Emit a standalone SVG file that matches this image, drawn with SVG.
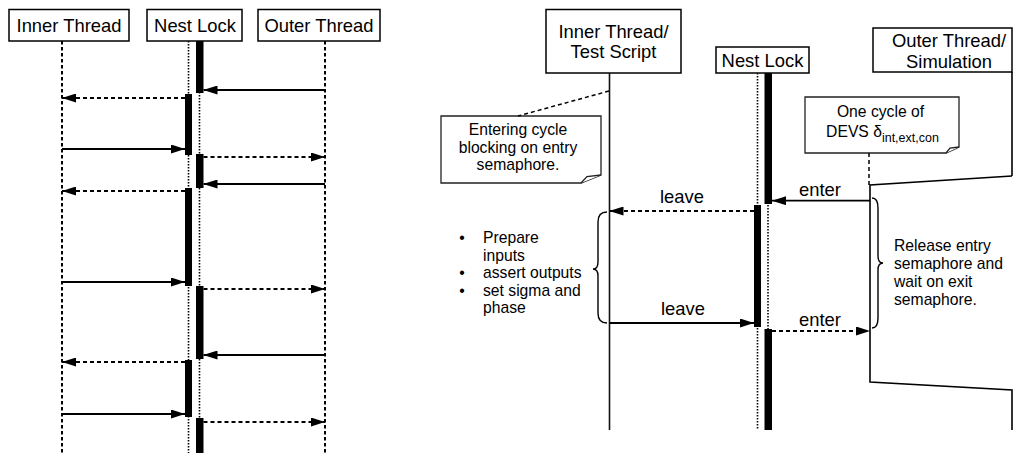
<svg xmlns="http://www.w3.org/2000/svg" width="1013" height="453" viewBox="0 0 1013 453">
  <style>
    text { font-family: "Liberation Sans", Arial, sans-serif; fill: #000; }
    .hdr { font-size: 18.4px; text-anchor: middle; }
    .lbl { font-size: 18.4px; text-anchor: middle; }
    .small { font-size: 15.7px; }
    .mid { text-anchor: middle; }
    .box { fill: #fff; stroke: #000; stroke-width: 1.5; }
    .note { fill: #fff; stroke: #222; stroke-width: 1.3; stroke-linejoin: miter; }
    .dash-life { stroke: #000; stroke-width: 2; stroke-dasharray: 3.5 2.5; fill: none; }
    .dot-life { stroke: #000; stroke-width: 1.6; stroke-dasharray: 1.5 1.5; fill: none; }
    .solid-life { stroke: #111; stroke-width: 1.6; fill: none; }
    .bar { fill: #000; }
    .msg { stroke: #000; stroke-width: 1.8; fill: none; marker-end: url(#ah); }
    .ret { stroke-dasharray: 4 3; }
    .link { stroke: #000; stroke-width: 1.5; stroke-dasharray: 4 3; fill: none; }
    .brace { stroke: #000; stroke-width: 1.4; fill: none; }
    .frame { stroke: #000; stroke-width: 1.6; fill: none; }
  </style>
  <defs>
    <marker id="ah" markerUnits="userSpaceOnUse" markerWidth="14" markerHeight="9" refX="14" refY="4.5" orient="auto">
      <path d="M0,0 L14,4.5 L0,9 Z" fill="#000"/>
    </marker>
  </defs>
  <rect width="1013" height="453" fill="#fff"/>

  <!-- ===== Left: repeated nesting cycles ===== -->
  <g id="l-inner">
    <line class="dash-life" x1="62" y1="41" x2="62" y2="453"/>
    <rect class="box" x="9" y="9.5" width="120" height="31.5"/>
    <text class="hdr" x="69" y="32">Inner Thread</text>
  </g>
  <g id="l-lock">
    <line class="dot-life" x1="188.5" y1="41" x2="188.5" y2="453"/>
    <line class="dot-life" x1="199.5" y1="41" x2="199.5" y2="453"/>
    <rect class="bar" x="196" y="41" width="7.5" height="52"/>
    <rect class="bar" x="185" y="94" width="7" height="61"/>
    <rect class="bar" x="196" y="154" width="7.5" height="34"/>
    <rect class="bar" x="185" y="188" width="7" height="98"/>
    <rect class="bar" x="196" y="286" width="7.5" height="73"/>
    <rect class="bar" x="185" y="360" width="7" height="57"/>
    <rect class="bar" x="196" y="418" width="7.5" height="35"/>
    <rect class="box" x="147" y="9.5" width="95" height="31.5"/>
    <text class="hdr" x="195" y="32">Nest Lock</text>
  </g>
  <g id="l-outer">
    <line class="dash-life" x1="325" y1="41" x2="325" y2="453"/>
    <rect class="box" x="258" y="9.5" width="122" height="31.5"/>
    <text class="hdr" x="319" y="32">Outer Thread</text>
  </g>
  <g id="l-connectors">
    <line class="msg" x1="325" y1="90" x2="203.5" y2="90"/>
    <line class="msg ret" x1="185" y1="98" x2="62" y2="98"/>
    <line class="msg" x1="62" y1="149" x2="185" y2="149"/>
    <line class="msg ret" x1="203.5" y1="157" x2="325" y2="157"/>
    <line class="msg" x1="325" y1="184" x2="203.5" y2="184"/>
    <line class="msg ret" x1="185" y1="191" x2="62" y2="191"/>
    <line class="msg" x1="62" y1="282" x2="185" y2="282"/>
    <line class="msg ret" x1="203.5" y1="289" x2="325" y2="289"/>
    <line class="msg" x1="325" y1="355" x2="203.5" y2="355"/>
    <line class="msg ret" x1="185" y1="362" x2="62" y2="362"/>
    <line class="msg" x1="62" y1="414" x2="185" y2="414"/>
    <line class="msg ret" x1="203.5" y1="422" x2="325" y2="422"/>
  </g>

  <!-- ===== Right: one cycle in detail ===== -->
  <g id="r-inner">
    <line class="solid-life" x1="609.5" y1="73" x2="609.5" y2="430"/>
    <rect class="box" x="546" y="9.5" width="135" height="63.5"/>
    <text class="hdr" x="613.5" y="38">Inner Thread/</text>
    <text class="hdr" x="613.5" y="58">Test Script</text>
  </g>
  <g id="r-lock">
    <line class="dot-life" x1="757.5" y1="73" x2="757.5" y2="430"/>
    <line class="dot-life" x1="768" y1="73" x2="768" y2="430"/>
    <rect class="bar" x="764.5" y="73" width="7.5" height="131"/>
    <rect class="bar" x="754" y="205" width="7" height="122"/>
    <rect class="bar" x="764.5" y="329" width="7.5" height="101"/>
    <rect class="box" x="716" y="47" width="93" height="26"/>
    <text class="hdr" x="762.5" y="67">Nest Lock</text>
  </g>
  <g id="r-outer">
    <line class="frame" x1="1012" y1="72" x2="1012" y2="176"/>
    <path class="frame" d="M1012,176 L870,185 L870,382 L1012,390 L1012,430"/>
    <rect class="box" x="873" y="28" width="139" height="44"/>
    <text class="hdr" x="949" y="47">Outer Thread/</text>
    <text class="hdr" x="949" y="67.5">Simulation</text>
  </g>
  <g id="note-entering">
    <path class="note" d="M441,116 H601 V175 L581,183 H441 Z"/>
    <path class="note" d="M581,183 L587,176.5 L601,175"/>
    <text class="small mid" x="518" y="135">Entering cycle</text>
    <text class="small mid" x="518" y="152.5">blocking on entry</text>
    <text class="small mid" x="518" y="170">semaphore.</text>
  </g>
  <g id="note-devs">
    <path class="note" d="M805,97 H959 V147 L946,153 H805 Z"/>
    <path class="note" d="M946,153 L950,148 L959,147"/>
    <text class="small mid" x="880.5" y="117">One cycle of</text>
    <text class="small mid" x="882.5" y="137">DEVS δ<tspan font-size="12.5" dy="5">int,ext,con</tspan></text>
  </g>
  <g id="inner-tasks">
    <path class="brace" d="M607,212 Q598,212 598,222 L598,262 Q598,269 593,269 Q598,269 598,276 L598,313 Q598,323 607,323"/>
    <text class="small mid" x="462" y="243">•</text>
    <text class="small" x="483" y="243">Prepare</text>
    <text class="small" x="483" y="260.5">inputs</text>
    <text class="small mid" x="462" y="278">•</text>
    <text class="small" x="483" y="278">assert outputs</text>
    <text class="small mid" x="462" y="295.5">•</text>
    <text class="small" x="483" y="295.5">set sigma and</text>
    <text class="small" x="483" y="313">phase</text>
  </g>
  <g id="outer-tasks">
    <path class="brace" d="M872,198 Q878,198 878,208 L878,256 Q878,263 883,263 Q878,263 878,270 L878,318 Q878,328 872,328"/>
    <text class="small" x="894" y="250.5">Release entry</text>
    <text class="small" x="894" y="268.8">semaphore and</text>
    <text class="small" x="894" y="287">wait on exit</text>
    <text class="small" x="894" y="305.3">semaphore.</text>
  </g>
  <g id="r-connectors">
    <line class="link" x1="609" y1="91" x2="518" y2="116"/>
    <line class="link" x1="869" y1="153" x2="869" y2="185"/>
    <line class="msg" x1="870" y1="200.7" x2="772" y2="200.7"/>
    <text class="lbl" x="820" y="196">enter</text>
    <line class="msg ret" x1="754" y1="211" x2="609.5" y2="211"/>
    <text class="lbl" x="682" y="203">leave</text>
    <line class="msg" x1="609.5" y1="323" x2="754" y2="323"/>
    <text class="lbl" x="683" y="315">leave</text>
    <line class="msg ret" x1="772" y1="331" x2="870" y2="331"/>
    <text class="lbl" x="820" y="326">enter</text>
  </g>
</svg>
